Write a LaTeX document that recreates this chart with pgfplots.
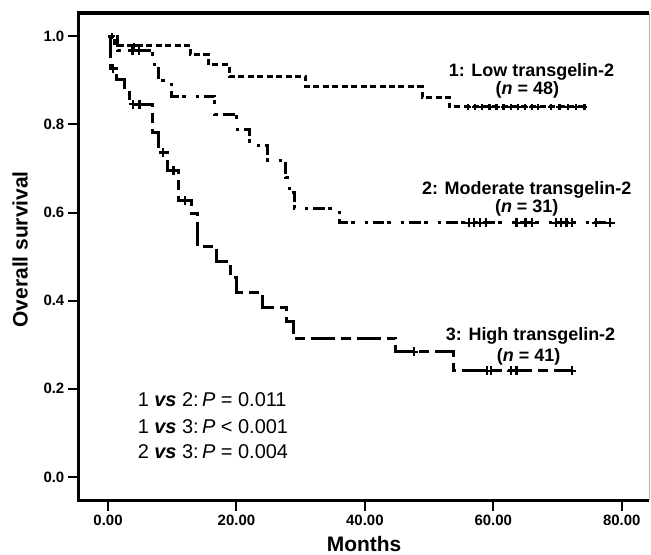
\documentclass[border=0pt]{standalone}
\usepackage{fontspec}
\setmainfont{Liberation Sans}
\usepackage{pgfplots}
\pgfplotsset{compat=1.18}
\begin{document}
\begin{tikzpicture}
% --- styles ---
\tikzset{
  lowline/.style={black, line width=3pt, const plot, dash pattern=on 6pt off 3.5pt},
  modline/.style={black, line width=3pt, const plot, dash pattern=on 3pt off 5pt on 12pt off 3pt on 4pt off 10pt},
  highline/.style={black, line width=3pt, const plot, dash pattern=on 24pt off 6pt on 10pt off 6pt},
  censor/.style={black, only marks, mark=+, mark size=4.5pt, mark options={line width=2.2pt, solid}},
  lbl/.style={font=\fontsize{18}{20}\selectfont\bfseries, anchor=base, inner sep=0pt},
  stat/.style={font=\fontsize{20}{22}\selectfont, anchor=base west, inner sep=0pt},
}
\begin{axis}[
  scale only axis, width=572pt, height=488.5pt,
  xmin=-4.55, xmax=84.3, ymin=-0.053, ymax=1.053,
  clip=false,
  axis line style={draw=none},
  xtick={0,20,40,60,80}, ytick={0,0.2,0.4,0.6,0.8,1.0},
  xtick pos=left, ytick pos=left, tick align=outside,
  major tick length=11pt,
  tick style={line width=2pt, black},
  tick label style={font=\bfseries\fontsize{15}{17}\selectfont},
  /pgf/number format/assume math mode=true,
  x tick label style={/pgf/number format/.cd, fixed, fixed zerofill, precision=2},
  y tick label style={/pgf/number format/.cd, fixed, fixed zerofill, precision=1},
  xlabel={Months},
  ylabel={Overall survival},
  xlabel style={font=\bfseries\fontsize{21}{24}\selectfont, at={(axis description cs:0.5,-0.105)}, anchor=base},
  ylabel style={font=\bfseries\fontsize{21}{24}\selectfont, at={(axis description cs:-0.103,0.515)}, anchor=center, rotate=0},
]

% === 1: Low transgelin-2 ===
\addplot[lowline] coordinates {
  (0,1.0) (1.0,0.979) (12.8,0.958) (15.7,0.935) (18.9,0.909) (30.8,0.885)
  (48.9,0.862) (53.1,0.840) (74.2,0.840)
};
\addplot[censor, mark size=3pt] coordinates {
  (0.6,1.0) (4.0,0.979)
  (56.0,0.840) (57.2,0.840) (58.3,0.840) (59.4,0.840) (60.5,0.840) (61.6,0.840)
  (62.7,0.840) (63.8,0.840) (64.9,0.840) (66.0,0.840) (67.0,0.840)
  (69.0,0.840) (70.3,0.840) (71.6,0.840) (72.9,0.840) (74.2,0.840)
};

% === 2: Moderate transgelin-2 ===
\addplot[modline] coordinates {
  (0,1.0) (1.5,0.968) (6.9,0.935) (7.9,0.900) (9.9,0.864) (16.6,0.823)
  (20.0,0.789) (22.0,0.752) (24.8,0.717) (27.7,0.680) (28.3,0.645)
  (29.0,0.610) (36.0,0.577) (78.3,0.577)
};
\addplot[censor] coordinates {
  (3.8,0.968) (4.8,0.968)
  (56.2,0.577) (57.0,0.577) (57.9,0.577) (58.8,0.577) (63.6,0.577) (65.0,0.577)
  (66.0,0.577) (69.7,0.577) (70.5,0.577) (71.4,0.577) (72.2,0.577)
  (76.0,0.577) (78.2,0.577)
};

% === 3: High transgelin-2 ===
\addplot[highline] coordinates {
  (0,1.0) (0.4,0.927) (1.3,0.902) (2.6,0.873) (3.4,0.846) (7.0,0.782)
  (7.8,0.736) (9.3,0.695) (10.9,0.627) (13.0,0.597) (13.9,0.523)
  (16.9,0.488) (19.0,0.453) (20.0,0.419) (24.0,0.385) (27.8,0.352)
  (28.9,0.315) (44.8,0.284) (53.8,0.241) (72.2,0.241)
};
\addplot[censor] coordinates {
  (0.8,0.927) (3.9,0.846) (4.9,0.846) (8.6,0.736) (10.2,0.695) (12.0,0.627)
  (47.6,0.284) (59.0,0.241) (59.7,0.241) (62.8,0.241) (63.6,0.241) (72.2,0.241)
};

% === labels ===
\node[lbl] at (axis cs:65.95,0.908) {1: Low transgelin-2};
\node[lbl] at (axis cs:65.3,0.868) {(\textit{n} = 48)};
\node[lbl] at (axis cs:65.2,0.642) {2: Moderate transgelin-2};
\node[lbl] at (axis cs:65.2,0.601) {(\textit{n} = 31)};
\node[lbl] at (axis cs:65.8,0.309) {3: High transgelin-2};
\node[lbl] at (axis cs:65.5,0.261) {(\textit{n} = 41)};

\node[stat] at (axis cs:4.6,0.159) {1 \textbf{\textit{vs}} 2:\,\textit{P} = 0.011};
\node[stat] at (axis cs:4.6,0.098) {1 \textbf{\textit{vs}} 3:\,\textit{P} < 0.001};
\node[stat] at (axis cs:4.6,0.041) {2 \textbf{\textit{vs}} 3:\,\textit{P} = 0.004};

% frame: thick left, top, bottom; thin grey right
\draw[black, line width=3.3pt, line join=miter]
  (rel axis cs:1,1) -- (rel axis cs:0,1) -- (rel axis cs:0,0) -- (rel axis cs:1,0);
\draw[gray!60, line width=0.8pt]
  ([xshift=-0.4pt]rel axis cs:1,0) -- ([xshift=-0.4pt]rel axis cs:1,1);
\end{axis}
\path (current axis.south west) ++(-79pt,-54.5pt) rectangle ++(651pt,556pt);
\end{tikzpicture}
\end{document}
